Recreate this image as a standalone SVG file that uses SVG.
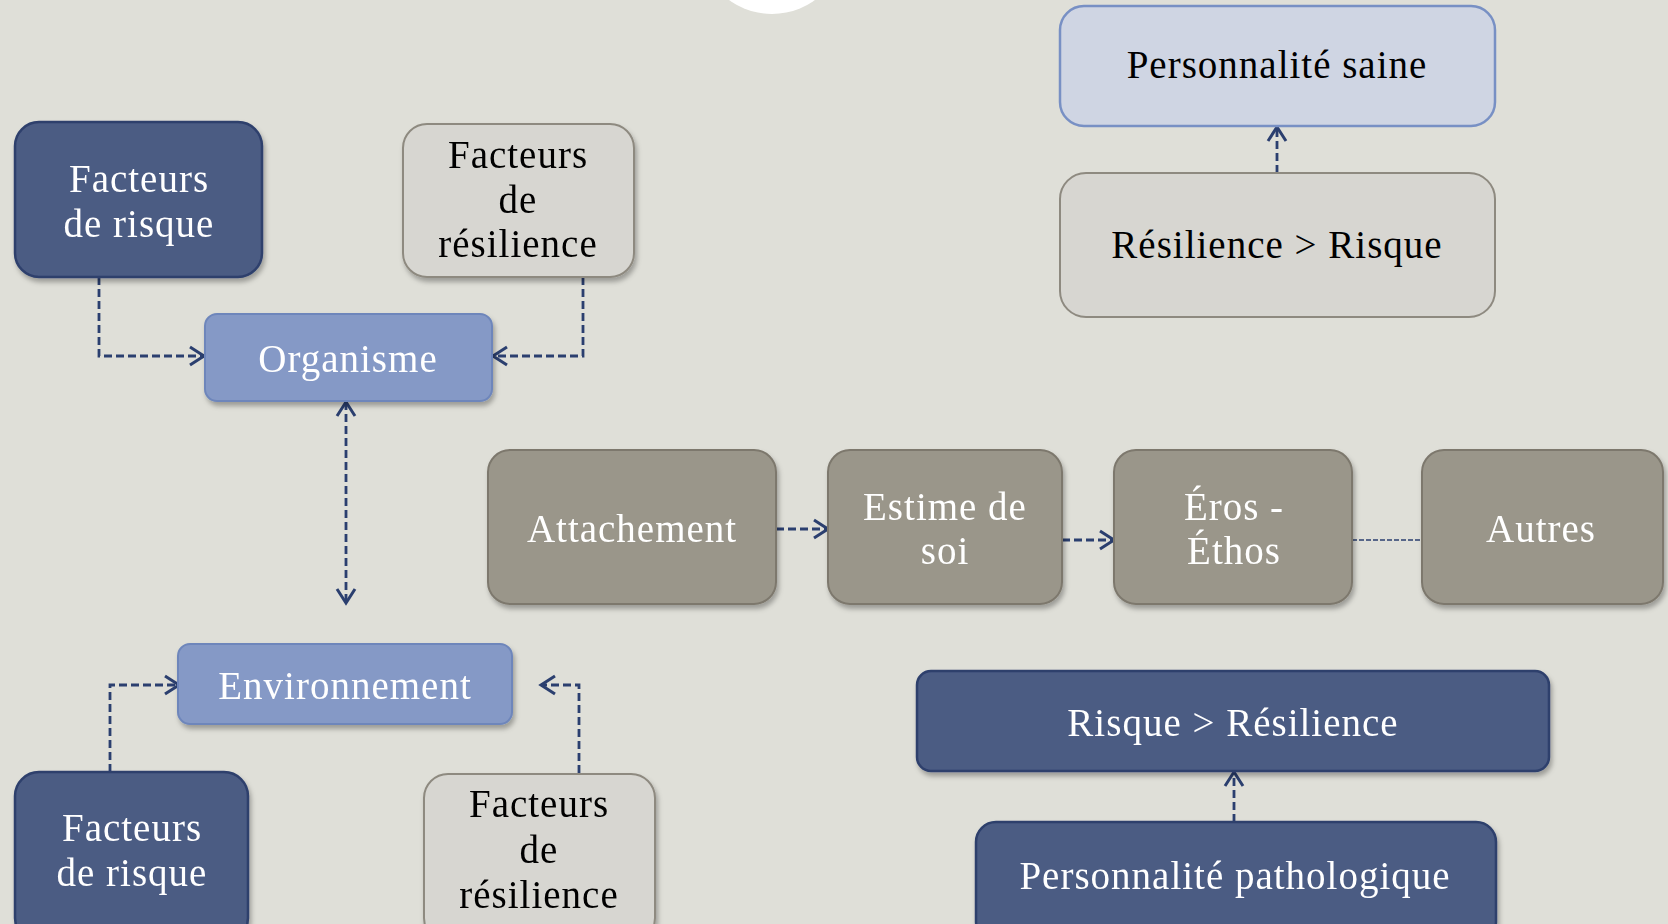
<svg xmlns="http://www.w3.org/2000/svg" width="1668" height="924" viewBox="0 0 1668 924">
<defs>
<filter id="sh" x="-10%" y="-10%" width="130%" height="140%">
<feDropShadow dx="2" dy="4" stdDeviation="2.5" flood-color="#000" flood-opacity="0.3"/>
</filter>
<marker id="ah" markerUnits="userSpaceOnUse" markerWidth="20" markerHeight="22" viewBox="0 0 20 22" refX="17" refY="11" orient="auto-start-reverse">
<path d="M3,2 L17,11 L3,20" fill="none" stroke="#2b3f6f" stroke-width="3"/>
</marker>
<style>
.t{font-family:"Liberation Serif","Times New Roman",serif;font-size:39px;letter-spacing:1px;text-anchor:middle}
.w{fill:#ffffff}
.k{fill:#000000}
.dark{fill:#4b5b83;stroke:#2d3f6c;stroke-width:2.5}
.lb{fill:#8599c6;stroke:#6e86bb;stroke-width:2}
.gr{fill:#d7d6d1;stroke:#8e8a80;stroke-width:2}
.tp{fill:#9a968a;stroke:#7d786d;stroke-width:2}
.pb{fill:#cfd5e3;stroke:#7890c4;stroke-width:2.5}
.c{fill:none;stroke:#2b3f6f;stroke-width:2.8;stroke-dasharray:8 4}
</style>
</defs>
<rect x="0" y="0" width="1668" height="924" fill="#dfdfd8"/>
<circle cx="772" cy="-59" r="73" fill="#ffffff"/>

<g id="connectors">
<path class="c" d="M99,277 V356 H204" marker-end="url(#ah)"/>
<path class="c" d="M583,277 V356 H493" marker-end="url(#ah)"/>
<path class="c" d="M346,402 V603" marker-start="url(#ah)" marker-end="url(#ah)"/>
<path class="c" d="M110,772 V685 H179" marker-end="url(#ah)"/>
<path class="c" d="M579,773 V685 H541" marker-end="url(#ah)"/>
<path class="c" d="M776,529 H828" marker-end="url(#ah)"/>
<path class="c" d="M1062,540 H1114" marker-end="url(#ah)"/>
<path d="M1352,540 H1422" fill="none" stroke="#2b3f6f" stroke-width="1.5" stroke-dasharray="5 2"/>
<path class="c" d="M1277,173 V127" marker-end="url(#ah)"/>
<path class="c" d="M1234,822 V772" marker-end="url(#ah)"/>
</g>

<g id="n-risque-top" filter="url(#sh)">
<rect class="dark" x="15" y="122" width="247" height="155" rx="24"/>
<text class="t w" x="139" y="192">Facteurs</text>
<text class="t w" x="139" y="237">de risque</text>
</g>
<g id="n-resilience-top" filter="url(#sh)">
<rect class="gr" x="403" y="124" width="231" height="153" rx="24"/>
<text class="t k" x="518" y="168">Facteurs</text>
<text class="t k" x="518" y="213">de</text>
<text class="t k" x="518" y="257">résilience</text>
</g>
<g id="n-organisme" filter="url(#sh)">
<rect class="lb" x="205" y="314" width="287" height="87" rx="12"/>
<text class="t w" x="348" y="372">Organisme</text>
</g>
<g id="n-environnement" filter="url(#sh)">
<rect class="lb" x="178" y="644" width="334" height="80" rx="12"/>
<text class="t w" x="345" y="699">Environnement</text>
</g>
<g id="n-risque-bot" filter="url(#sh)">
<rect class="dark" x="15" y="772" width="233" height="170" rx="24"/>
<text class="t w" x="132" y="841">Facteurs</text>
<text class="t w" x="132" y="886">de risque</text>
</g>
<g id="n-resilience-bot" filter="url(#sh)">
<rect class="gr" x="424" y="774" width="231" height="168" rx="24"/>
<text class="t k" x="539" y="817">Facteurs</text>
<text class="t k" x="539" y="863">de</text>
<text class="t k" x="539" y="908">résilience</text>
</g>
<g id="n-attachement" filter="url(#sh)">
<rect class="tp" x="488" y="450" width="288" height="154" rx="22"/>
<text class="t w" x="632" y="542">Attachement</text>
</g>
<g id="n-estime" filter="url(#sh)">
<rect class="tp" x="828" y="450" width="234" height="154" rx="22"/>
<text class="t w" x="945" y="520">Estime de</text>
<text class="t w" x="945" y="564">soi</text>
</g>
<g id="n-eros" filter="url(#sh)">
<rect class="tp" x="1114" y="450" width="238" height="154" rx="22"/>
<text class="t w" x="1234" y="520">Éros -</text>
<text class="t w" x="1234" y="564">Éthos</text>
</g>
<g id="n-autres" filter="url(#sh)">
<rect class="tp" x="1422" y="450" width="241" height="154" rx="22"/>
<text class="t w" x="1541" y="542">Autres</text>
</g>
<g id="n-saine">
<rect class="pb" x="1060" y="6" width="435" height="120" rx="24"/>
<text class="t k" x="1277" y="78">Personnalité saine</text>
</g>
<g id="n-res-risque">
<rect class="gr" x="1060" y="173" width="435" height="144" rx="26"/>
<text class="t k" x="1277" y="258">Résilience &gt; Risque</text>
</g>
<g id="n-risque-res" filter="url(#sh)">
<rect class="dark" x="917" y="671" width="632" height="100" rx="14"/>
<text class="t w" x="1233" y="736">Risque &gt; Résilience</text>
</g>
<g id="n-patho" filter="url(#sh)">
<rect class="dark" x="976" y="822" width="520" height="120" rx="20"/>
<text class="t w" x="1235" y="889">Personnalité pathologique</text>
</g>
</svg>
